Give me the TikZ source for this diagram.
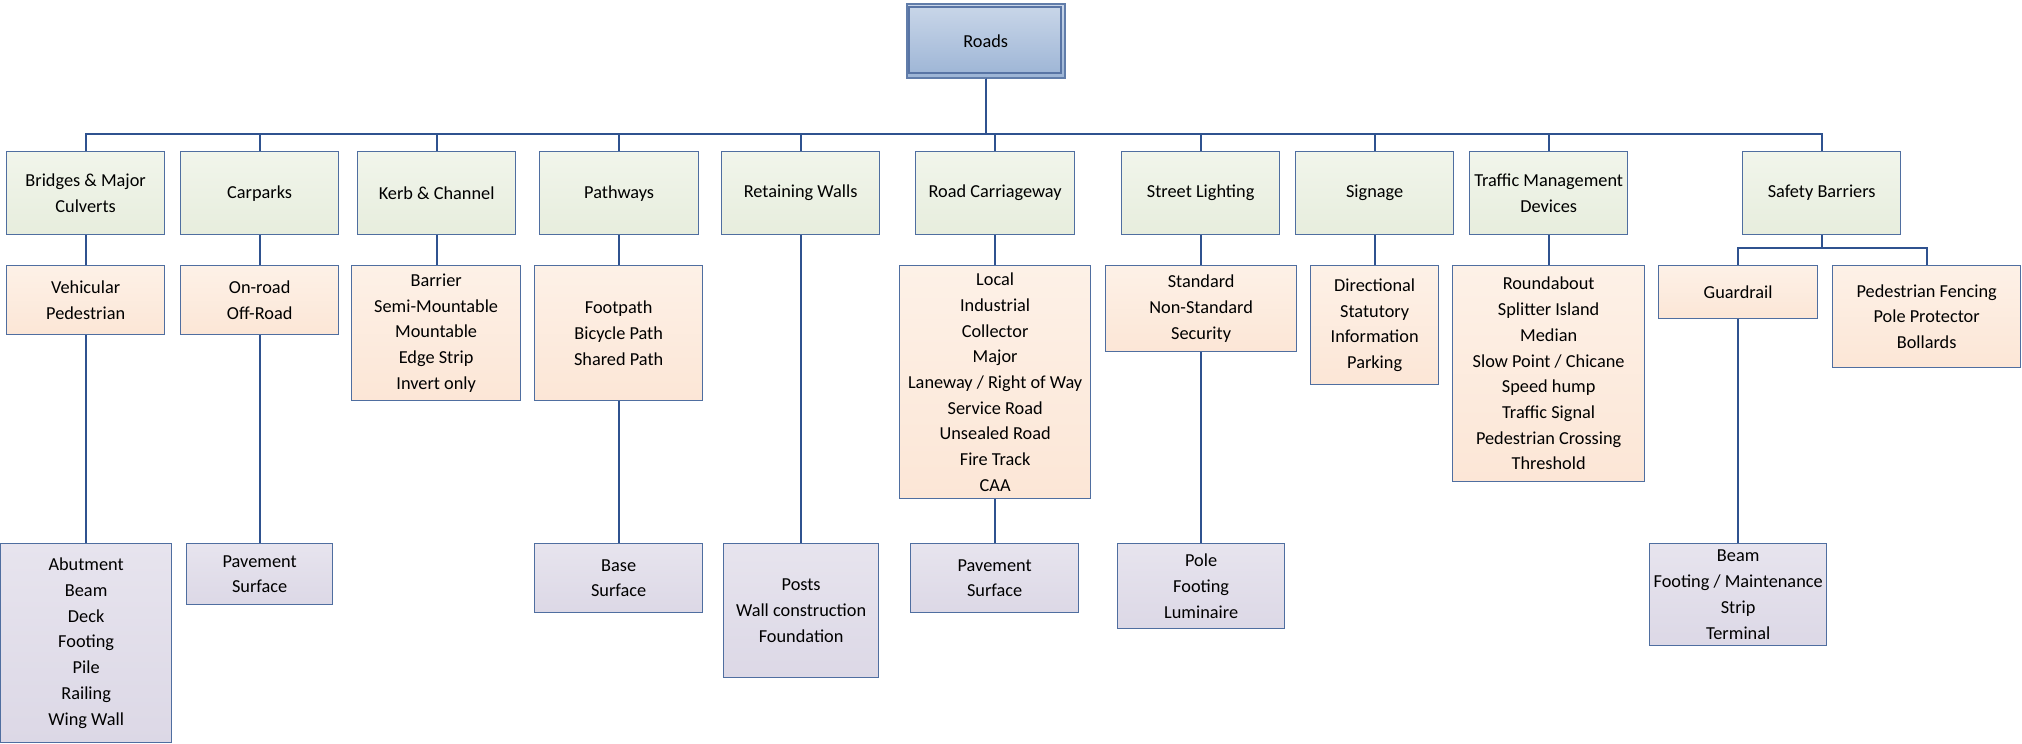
\documentclass[tikz,border=0pt]{standalone}
\usepackage{fontspec}
\setmainfont{Carlito}
\definecolor{link}{RGB}{47,82,143}
\definecolor{edge}{RGB}{79,110,160}
\definecolor{greenTop}{RGB}{241,245,235}
\definecolor{greenBot}{RGB}{231,237,221}
\definecolor{orangeTop}{RGB}{253,241,231}
\definecolor{orangeBot}{RGB}{252,230,214}
\definecolor{purpleTop}{RGB}{231,228,238}
\definecolor{purpleBot}{RGB}{220,216,230}
\definecolor{rootTop}{RGB}{202,215,233}
\definecolor{rootBot}{RGB}{156,180,213}
\tikzset{
  cell/.style={rectangle, inner sep=0pt, anchor=north west, align=center,
    draw=edge, line width=1.3pt,
    font=\fontsize{18.3}{25.7}\selectfont},
  grp/.style={cell, top color=greenTop, bottom color=greenBot},
  kind/.style={cell, top color=orangeTop, bottom color=orangeBot},
  part/.style={cell, top color=purpleTop, bottom color=purpleBot},
  link/.style={draw=link, line width=1.8pt},
}
\begin{document}
\begin{tikzpicture}[x=1pt, y=-1pt]
\useasboundingbox (0,0) rectangle (2022,744);

% root
\node[cell, draw=edge!90, line width=1.5pt, top color=rootTop, bottom color=rootBot,
      minimum width=158pt, minimum height=74pt] (roads) at (906,3) {};
\draw[draw=link!80, line width=1.2pt] (909,7) rectangle (1061,73);
\node[font=\fontsize{18.3}{25.7}\selectfont] at (roads.center) {Roads};

% first level
\node[grp, minimum width=158pt, minimum height=83pt] (b1)  at (6,151)    {Bridges \& Major\\Culverts};
\node[grp, minimum width=158pt, minimum height=83pt] (c1)  at (180,151)  {Carparks};
\node[grp, minimum width=158pt, minimum height=83pt] (k1)  at (357,151)  {Kerb \& Channel};
\node[grp, minimum width=159pt, minimum height=83pt] (p1)  at (539,151)  {Pathways};
\node[grp, minimum width=158pt, minimum height=83pt] (r1)  at (721,151)  {Retaining Walls};
\node[grp, minimum width=159pt, minimum height=83pt] (rc1) at (915,151)  {Road Carriageway};
\node[grp, minimum width=158pt, minimum height=83pt] (sl1) at (1121,151) {Street Lighting};
\node[grp, minimum width=158pt, minimum height=83pt] (sg1) at (1295,151) {Signage};
\node[grp, minimum width=158pt, minimum height=83pt] (tm1) at (1469,151) {Traffic Management\\Devices};
\node[grp, minimum width=158pt, minimum height=83pt] (sb1) at (1742,151) {Safety Barriers};

% second level
\node[kind, minimum width=158pt, minimum height=69pt]  (b2)  at (6,265)    {Vehicular\\Pedestrian};
\node[kind, minimum width=158pt, minimum height=69pt]  (c2)  at (180,265)  {On-road\\Off-Road};
\node[kind, minimum width=169pt, minimum height=135pt] (k2)  at (351,265)  {Barrier\\Semi-Mountable\\Mountable\\Edge Strip\\Invert only};
\node[kind, minimum width=168pt, minimum height=135pt] (p2)  at (534,265)  {Footpath\\Bicycle Path\\Shared Path};
\node[kind, minimum width=191pt, minimum height=233pt] (rc2) at (899,265)  {Local\\Industrial\\Collector\\Major\\Laneway / Right of Way\\Service Road\\Unsealed Road\\Fire Track\\CAA};
\node[kind, minimum width=191pt, minimum height=86pt]  (sl2) at (1105,265) {Standard\\Non-Standard\\Security};
\node[kind, minimum width=128pt, minimum height=119pt] (sg2) at (1310,265) {Directional\\Statutory\\Information\\Parking};
\node[kind, minimum width=192pt, minimum height=216pt] (tm2) at (1452,265) {Roundabout\\Splitter Island\\Median\\Slow Point / Chicane\\Speed hump\\Traffic Signal\\Pedestrian Crossing\\Threshold};
\node[kind, minimum width=159pt, minimum height=53pt]  (gr)  at (1658,265) {Guardrail};
\node[kind, minimum width=188pt, minimum height=102pt] (pf)  at (1832,265) {Pedestrian Fencing\\Pole Protector\\Bollards};

% third level
\node[part, minimum width=171pt, minimum height=199pt] (b3)  at (0,543)    {Abutment\\Beam\\Deck\\Footing\\Pile\\Railing\\Wing Wall};
\node[part, minimum width=146pt, minimum height=61pt]  (c3)  at (186,543)  {Pavement\\Surface};
\node[part, minimum width=168pt, minimum height=69pt]  (p3)  at (534,543)  {Base\\Surface};
\node[part, minimum width=155pt, minimum height=134pt] (r3)  at (723,543)  {Posts\\Wall construction\\Foundation};
\node[part, minimum width=168pt, minimum height=69pt]  (rc3) at (910,543)  {Pavement\\Surface};
\node[part, minimum width=167pt, minimum height=85pt]  (sl3) at (1117,543) {Pole\\Footing\\Luminaire};
\node[part, minimum width=177pt, minimum height=102pt] (gr3) at (1649,543) {Beam\\Footing / Maintenance\\Strip\\Terminal};

% connectors
\coordinate (busy) at (0,134);
\coordinate (sbus) at (0,248);
\foreach \n in {b1,c1,k1,p1,r1,rc1,sl1,sg1,tm1,sb1}
  \draw[link] (roads.south) |- (\n.north |- busy) -- (\n.north);
\foreach \a/\b in {b1/b2,c1/c2,k1/k2,p1/p2,rc1/rc2,sl1/sl2,sg1/sg2,tm1/tm2,
                   b2/b3,c2/c3,p2/p3,r1/r3,rc2/rc3,sl2/sl3,gr/gr3}
  \draw[link] (\a.south) -- (\a.south |- \b.north);
\draw[link] (sb1.south) |- (gr.north |- sbus) -- (gr.north);
\draw[link] (sb1.south) |- (pf.north |- sbus) -- (pf.north);
\end{tikzpicture}
\end{document}
